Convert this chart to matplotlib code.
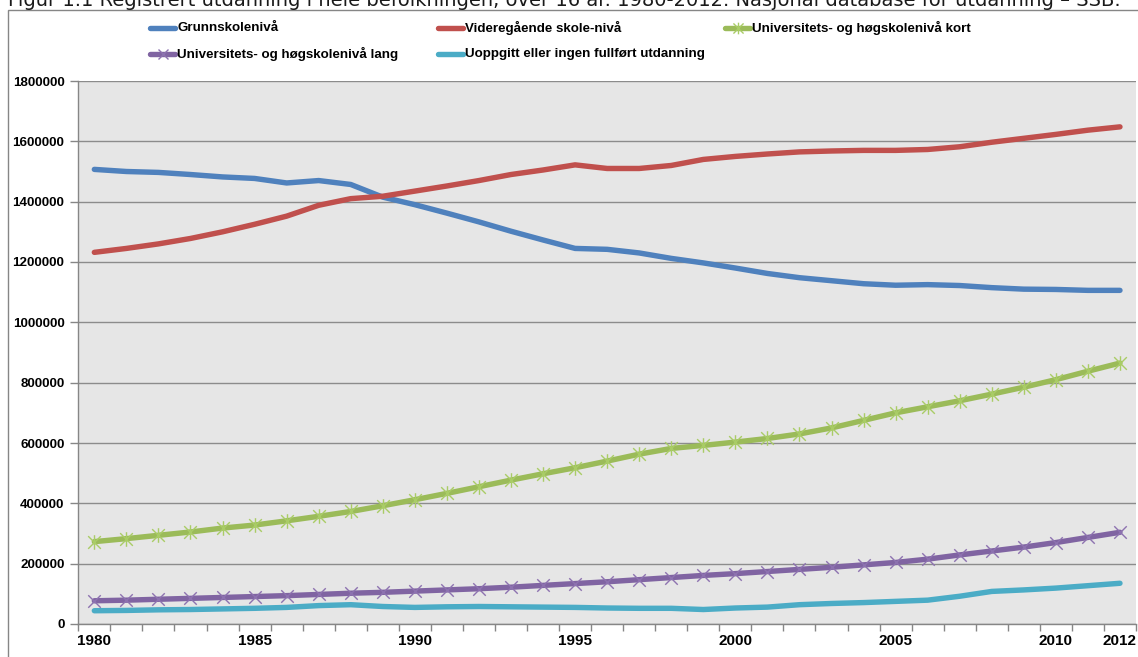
import matplotlib
matplotlib.use("Agg")
import matplotlib.pyplot as plt
from matplotlib.path import Path
from matplotlib.lines import Line2D
from matplotlib.patches import Rectangle

years = list(range(1980, 2013))
tick_labels = ["1980", "1985", "1990", "1995", "2000", "2005", "2010", "2012"]

grunnskole = [1507000, 1500000, 1497000, 1490000, 1482000, 1477000, 1462000, 1470000,
              1457000, 1415000, 1390000, 1362000, 1333000, 1302000, 1273000, 1245000,
              1242000, 1230000, 1212000, 1197000, 1180000, 1162000, 1148000, 1138000,
              1128000, 1123000, 1125000, 1122000, 1115000, 1110000, 1109000, 1106000, 1106000]
videregaende = [1232000, 1245000, 1260000, 1278000, 1300000, 1325000, 1352000, 1388000,
                1410000, 1418000, 1435000, 1452000, 1470000, 1490000, 1505000, 1522000,
                1510000, 1510000, 1520000, 1540000, 1550000, 1558000, 1565000, 1568000,
                1570000, 1570000, 1573000, 1582000, 1597000, 1610000, 1623000, 1637000, 1648000]
uni_kort = [273000, 283000, 294000, 305000, 318000, 328000, 342000, 357000,
            373000, 392000, 412000, 433000, 455000, 477000, 498000, 518000,
            540000, 563000, 582000, 592000, 603000, 615000, 630000, 650000,
            675000, 700000, 720000, 740000, 762000, 785000, 810000, 838000, 865000]
uni_lang = [77000, 79000, 82000, 85000, 88000, 91000, 94000, 98000,
            102000, 105000, 109000, 113000, 117000, 122000, 128000, 134000,
            140000, 147000, 154000, 161000, 167000, 174000, 181000, 188000,
            196000, 204000, 215000, 229000, 242000, 255000, 270000, 287000, 304000]
uoppgitt = [44000, 45000, 47000, 48000, 50000, 52000, 55000, 61000,
            64000, 58000, 55000, 57000, 58000, 57000, 56000, 55000,
            53000, 52000, 52000, 48000, 53000, 56000, 64000, 68000,
            71000, 75000, 79000, 92000, 108000, 113000, 119000, 127000, 135000]

series_names = ["Grunnskolenivå", "Videregående skole-nivå", "Universitets- og høgskolenivå kort",
                "Universitets- og høgskolenivå lang", "Uoppgitt eller ingen fullført utdanning"]
series_values = [grunnskole, videregaende, uni_kort, uni_lang, uoppgitt]

title = ("Figur 1.1 Registrert utdanning i hele befolkningen, over 16 år. 1980-2012. "
         "Nasjonal database for utdanning – SSB.")

# styles
colors = ["#4F81BD", "#C0504D", "#9BBB59", "#8064A2", "#4BACC6"]
marker_colors = [None, None, "#A9CC66", "#8D72B0", None]
star = Path([(-1, -1), (1, 1), (-1, 1), (1, -1), (0, -1.15), (0, 1.15)],
            [Path.MOVETO, Path.LINETO, Path.MOVETO, Path.LINETO, Path.MOVETO, Path.LINETO])
xmark = Path([(-1, -1), (1, 1), (-1, 1), (1, -1)],
             [Path.MOVETO, Path.LINETO, Path.MOVETO, Path.LINETO])
markers = [None, None, star, xmark, None]
msizes = [0, 0, 10.5, 9, 0]

FONT = ["Liberation Sans", "DejaVu Sans"]
plt.rcParams["font.family"] = FONT

W, H = 1138, 657
fig = plt.figure(figsize=(W / 100, H / 100), dpi=100)
fig.patch.set_facecolor("white")

def fx(px):
    return px / W

def fy(py):
    return 1 - py / H

# outer chart border
fig.patches.append(Rectangle((fx(8), fy(H + 5)), fx(W + 20), fy(9.5) - fy(H + 5),
                             transform=fig.transFigure, fill=False,
                             edgecolor="#868686", linewidth=1.0))

# title (partially cut at top, as in the reference)
fig.text(fx(8), fy(6), title, fontsize=14, ha="left", va="baseline", color="#1a1a1a",
         family=["DejaVu Sans"])

left, right, top, bottom = 78.3, 1136.0, 81.0, 624.0
ax = fig.add_axes([fx(left), fy(bottom), fx(right - left), fy(top) - fy(bottom)])
ax.set_facecolor("#E6E6E6")

x = list(range(len(years)))
for vals, c, m, mc, ms in zip(series_values, colors, markers, marker_colors, msizes):
    ax.plot(x, vals, color=c, linewidth=3.9, solid_capstyle="round", solid_joinstyle="round",
            zorder=3)
    if m is not None:
        ax.plot(x, vals, linestyle="none", marker=m, markersize=ms, markeredgecolor=mc,
                markerfacecolor="none", markeredgewidth=1.0, zorder=4)

ax.set_xlim(-0.5, len(years) - 0.5)
ax.set_ylim(0, 1800000)
ax.set_yticks(range(0, 1800001, 200000))
ax.set_yticklabels([str(v) for v in range(0, 1800001, 200000)])
ax.grid(axis="y", color="#8C8C8C", linewidth=1.0, zorder=1)
ax.set_axisbelow(True)

label_idx = [years.index(int(t)) for t in tick_labels]
ax.set_xticks(label_idx)
ax.set_xticklabels(tick_labels)
ax.set_xticks([i - 0.5 for i in range(len(years) + 1)], minor=True)
ax.tick_params(axis="x", which="major", length=0, pad=7, labelsize=11)
ax.tick_params(axis="x", which="minor", length=5, color="#868686", width=1)
ax.tick_params(axis="y", length=6, color="#868686", width=1, labelsize=9.6, pad=4)
for lbl in ax.get_xticklabels() + ax.get_yticklabels():
    lbl.set_fontweight("bold")

for s in ["top", "right"]:
    ax.spines[s].set_visible(False)
for s in ["left", "bottom"]:
    ax.spines[s].set_color("#868686")
    ax.spines[s].set_linewidth(1.0)

# legend (manual placement, two rows)
leg_pos = [(148, 28), (436, 28), (723, 28), (148, 54), (436, 54)]
for name, c, m, mc, ms, (lx, ly) in zip(series_names, colors, markers, marker_colors, msizes, leg_pos):
    fig.add_artist(Line2D([fx(lx + 2), fx(lx + 27)], [fy(ly), fy(ly)], transform=fig.transFigure,
                          color=c, linewidth=3.9, solid_capstyle="round"))
    if m is not None:
        fig.add_artist(Line2D([fx(lx + 14.5)], [fy(ly)], transform=fig.transFigure,
                              linestyle="none", marker=m, markersize=ms * 0.8,
                              markeredgecolor=mc, markerfacecolor="none", markeredgewidth=1.0))
    fig.text(fx(lx + 29), fy(ly), name, fontsize=9.6, fontweight="bold", ha="left",
             va="center", color="#000000")

fig.savefig("out.png", dpi=100, facecolor="white")
